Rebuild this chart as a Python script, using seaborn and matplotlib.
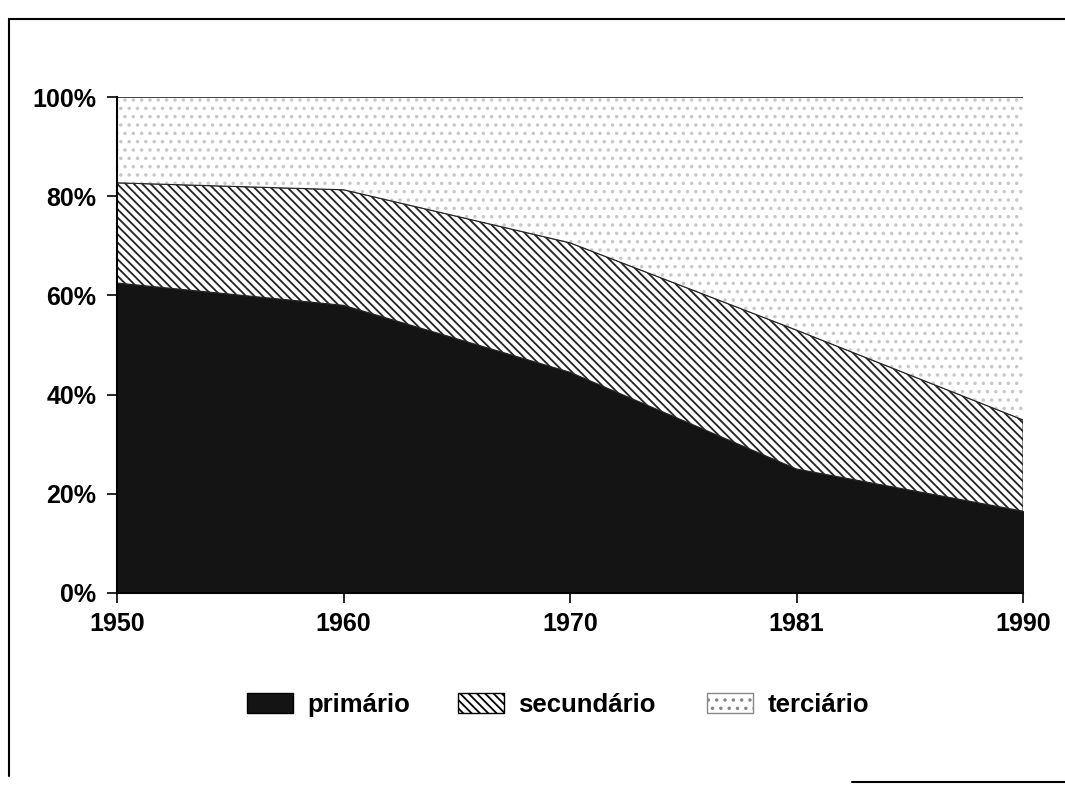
import matplotlib
matplotlib.use("Agg")
import matplotlib.pyplot as plt
import seaborn as sns
import numpy as np
from matplotlib.patches import Patch
from matplotlib.lines import Line2D

years = ["1950", "1960", "1970", "1981", "1990"]
primario = [62.5, 58.0, 44.5, 25.0, 16.5]
secundario = [20.2, 23.3, 26.1, 28.0, 18.4]
terciario = [17.3, 18.7, 29.4, 47.0, 65.1]
labels = ["primário", "secundário", "terciário"]

sns.set_theme(style="white")
plt.rcParams["font.family"] = ["Liberation Sans", "DejaVu Sans"]
plt.rcParams["hatch.linewidth"] = 1.3
plt.rcParams["text.color"] = "black"

fig = plt.figure(figsize=(10.65, 7.85), dpi=100)
ax = fig.add_axes([0.110, 0.2446, 0.8506, 0.6318])

x = np.arange(len(years))
p = np.array(primario)
s = p + np.array(secundario)
t = s + np.array(terciario)

ax.fill_between(x, 0, p, facecolor="#141414", edgecolor="#141414", linewidth=0.8)
ax.fill_between(x, p, s, facecolor="white", edgecolor="#222222", hatch="\\\\\\\\", linewidth=0.8)
ax.fill_between(x, s, t, facecolor="white", edgecolor="#c8c8c8", hatch="..", linewidth=0.0)
ax.plot(x, s, color="#222222", lw=0.8)
ax.plot(x, t, color="#222222", lw=1.2)

ax.set_xlim(0, len(years) - 1)
ax.set_ylim(0, 100)
ax.set_xticks(x)
ax.set_xticklabels(years)
ax.set_yticks([0, 20, 40, 60, 80, 100])
ax.set_yticklabels([f"{v}%" for v in [0, 20, 40, 60, 80, 100]])
for sp in ["top", "right"]:
    ax.spines[sp].set_visible(False)
for sp in ["left", "bottom"]:
    ax.spines[sp].set_color("black")
    ax.spines[sp].set_linewidth(1.5)
ax.tick_params(axis="both", which="both", length=7, width=1.2, color="black",
               labelsize=18, labelcolor="black", direction="out", left=True, bottom=True)
for lab in ax.get_xticklabels() + ax.get_yticklabels():
    lab.set_fontweight("bold")
ax.tick_params(axis="x", pad=7)
ax.tick_params(axis="y", pad=8)

handles = [
    Patch(facecolor="#141414", edgecolor="black", label=labels[0]),
    Patch(facecolor="white", edgecolor="black", hatch="\\\\\\\\", label=labels[1]),
    Patch(facecolor="white", edgecolor="#888888", hatch="..", label=labels[2]),
]
lefts = [0.232, 0.430, 0.664]
for h, lx in zip(handles, lefts):
    fig.legend(handles=[h], loc="center left", bbox_to_anchor=(lx, 0.102),
               frameon=False, prop={"size": 18.5, "weight": "bold"}, labelcolor="black",
               handlelength=1.8, handleheight=0.85, handletextpad=0.55,
               borderpad=0, borderaxespad=0)

# page border lines from the scanned original
fig.add_artist(Line2D([0.0085, 1.0], [0.976, 0.976], color="black", lw=1.5, transform=fig.transFigure))
fig.add_artist(Line2D([0.0085, 0.0085], [0.976, 0.012], color="black", lw=1.5, transform=fig.transFigure))
fig.add_artist(Line2D([0.80, 1.0], [0.004, 0.004], color="black", lw=1.5, transform=fig.transFigure))

fig.savefig("out.png", dpi=100)
